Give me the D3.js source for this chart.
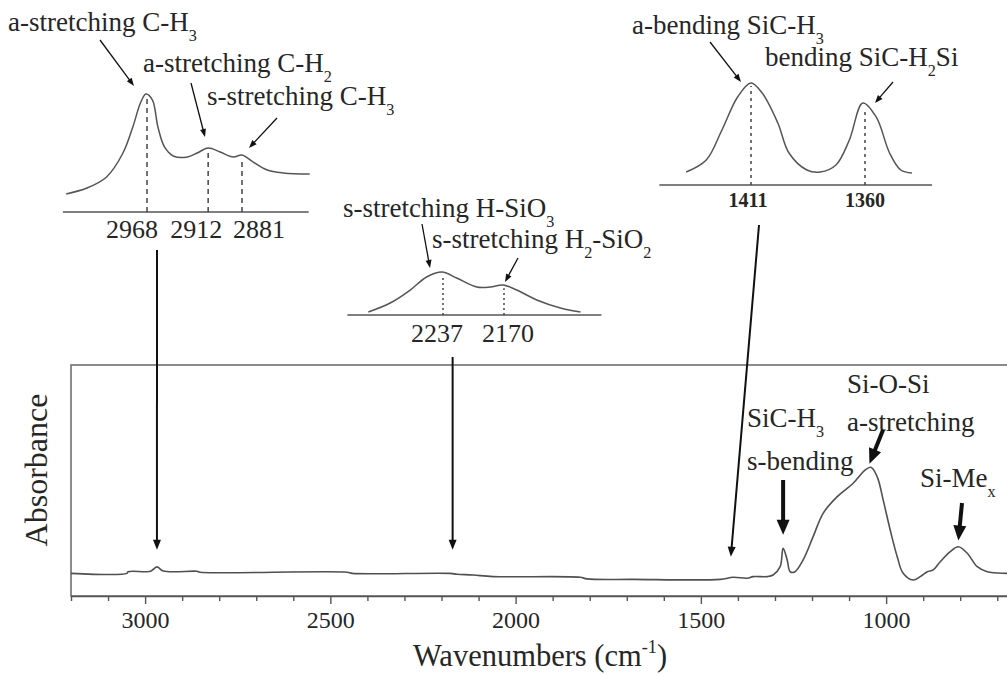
<!DOCTYPE html>
<html>
<head>
<meta charset="utf-8">
<script src="https://cdn.jsdelivr.net/npm/d3@7"></script>
<style>
  body { margin: 0; background: #fff; }
  svg { display: block; }
  text { font-family: "Liberation Serif", "Times New Roman", serif; fill: #262626; }
</style>
</head>
<body>
<svg id="chart" width="1007" height="675"></svg>
<script>
// --- Data: main FTIR spectrum (wavenumber cm-1, absorbance a.u.) ---
const mainWavenumbers = [3200, 3049, 3046, 3000, 2985, 2968, 2951, 2860, 2852, 2455, 2441, 2177, 2158, 2115, 2061,
  1826, 1807, 1683, 1448, 1413, 1375, 1359, 1321, 1305, 1286, 1278, 1267, 1259, 1246, 1224, 1197, 1170, 1132,
  1089, 1057, 1041, 1024, 1008, 989, 970, 954, 927, 908, 889, 873, 854, 827, 805, 781, 754, 727, 673, 650];
const mainAbsorbance = [0.098, 0.098, 0.105, 0.105, 0.107, 0.126, 0.108, 0.107, 0.103, 0.103, 0.098, 0.098, 0.094, 0.091, 0.084,
  0.081, 0.074, 0.072, 0.072, 0.081, 0.077, 0.084, 0.084, 0.091, 0.127, 0.206, 0.156, 0.105, 0.105, 0.156, 0.257, 0.358, 0.430,
  0.488, 0.545, 0.557, 0.516, 0.416, 0.286, 0.170, 0.098, 0.069, 0.084, 0.105, 0.113, 0.148, 0.192, 0.213, 0.185, 0.127, 0.105, 0.098, 0.097];
const mainTicks = d3.range(3200, 650, -100);
const mainTickLabels = [3000, 2500, 2000, 1500, 1000];

// inset 1 : C-H stretching region
const inset1Wavenumbers = [3042, 3023, 3005, 2990, 2981, 2974, 2969, 2963, 2958, 2952, 2944, 2931, 2922, 2912, 2901, 2889, 2881, 2871, 2858, 2843, 2819];
const inset1Intensity = [0.153, 0.203, 0.297, 0.5, 0.72, 0.924, 1.0, 0.949, 0.72, 0.551, 0.475, 0.466, 0.5, 0.542, 0.508, 0.466, 0.483, 0.424, 0.356, 0.331, 0.322];
const inset1Peaks = [2968, 2912, 2881];

// inset 2 : Si-H stretching region
const inset2Wavenumbers = [2319, 2295, 2273, 2255, 2238, 2222, 2200, 2185, 2171, 2156, 2134, 2108, 2086];
const inset2Intensity = [0.07, 0.279, 0.581, 0.884, 1.0, 0.86, 0.651, 0.651, 0.698, 0.581, 0.349, 0.163, 0.07];
const inset2Peaks = [2237, 2170];

// inset 3 : SiC-H bending region
const inset3Wavenumbers = [1440, 1431, 1424, 1417, 1411, 1406, 1399, 1394, 1386, 1380, 1373, 1367, 1361, 1355, 1349, 1344, 1339];
const inset3Intensity = [0.127, 0.245, 0.539, 0.863, 1.0, 0.902, 0.608, 0.314, 0.147, 0.127, 0.196, 0.441, 0.804, 0.667, 0.314, 0.147, 0.118];
const inset3Peaks = [1411, 1360];

const svg = d3.select("#chart");
const fontFamily = '"Liberation Serif", "Times New Roman", serif';

// text with sub/superscripts : parts = [[str, "sub"|"sup"|null], ...]
function richText(g, x, y, parts, size) {
  const t = g.append("text").attr("x", x).attr("y", y).style("font-size", size + "px");
  let shift = 0;
  parts.forEach(([s, kind]) => {
    const target = kind === "sub" ? size * 0.38 : kind === "sup" ? -size * 0.42 : 0;
    const sp = t.append("tspan").attr("dy", target - shift).text(s);
    if (kind) sp.style("font-size", (size * 0.6) + "px");
    shift = target;
  });
  return t;
}

// arrow: line + filled head, tip at (x2, y2)
function arrow(g, x1, y1, x2, y2, o) {
  const dx = x2 - x1, dy = y2 - y1, len = Math.hypot(dx, dy);
  const ux = dx / len, uy = dy / len;
  const bx = x2 - ux * o.head, by = y2 - uy * o.head;
  g.append("line")
    .attr("x1", x1).attr("y1", y1).attr("x2", bx + ux * 1).attr("y2", by + uy * 1)
    .attr("stroke", "#111").attr("stroke-width", o.width);
  const hw = o.headW / 2;
  g.append("path")
    .attr("d", `M${x2},${y2}L${bx - uy * hw},${by + ux * hw}L${bx + uy * hw},${by - ux * hw}Z`)
    .attr("fill", "#111");
}

// --- Main spectrum ---
const x = d3.scaleLinear().domain([3200, 650]).range([71, 1015.8]);
const y = d3.scaleLinear().domain([0, 1]).range([596, 365]);

svg.append("defs").append("clipPath").attr("id", "plot-clip")
  .append("rect").attr("x", 71).attr("y", 365).attr("width", 945).attr("height", 231);

svg.append("rect")
  .attr("x", x(3200)).attr("y", y(1))
  .attr("width", x(650) - x(3200)).attr("height", y(0) - y(1))
  .attr("fill", "none").attr("stroke", "#666").attr("stroke-width", 1.5);

const xAxis = d3.axisBottom(x)
  .tickValues(mainTicks)
  .tickSize(8)
  .tickSizeOuter(0)
  .tickPadding(7)
  .tickFormat(d => mainTickLabels.includes(d) ? d : "");

const axisG = svg.append("g").attr("transform", `translate(0,${y(0)})`).call(xAxis)
  .attr("font-family", fontFamily).attr("font-size", 24);
axisG.select(".domain").attr("stroke", "#555").attr("stroke-width", 1.6);
axisG.selectAll(".tick line").attr("stroke", "#555").attr("stroke-width", 1.4)
  .attr("y2", d => mainTickLabels.includes(d) ? 8 : 5);
axisG.selectAll(".tick text")
  .attr("font-family", fontFamily)
  .style("font-family", "'Liberation Serif', serif")
  .style("font-size", "24px").attr("fill", "#262626");

const mainLine = d3.line()
  .x((d, i) => x(mainWavenumbers[i]))
  .y((d, i) => y(mainAbsorbance[i]))
  .curve(d3.curveCatmullRom.alpha(0.5));

svg.append("path")
  .datum(mainWavenumbers)
  .attr("clip-path", "url(#plot-clip)")
  .attr("d", mainLine)
  .attr("fill", "none").attr("stroke", "#505050").attr("stroke-width", 1.6);

// axis titles
svg.append("text")
  .attr("transform", "translate(47,470) rotate(-90)")
  .attr("text-anchor", "middle")
  .style("font-size", "32px")
  .text("Absorbance");

richText(svg, 413, 666, [["Wavenumbers (cm", null], ["-1", "sup"], [")", null]], 30.5);

// --- Inset helper ---
function drawInset(cfg) {
  const g = svg.append("g");
  const sx = d3.scaleLinear().domain(cfg.peakDomain).range(cfg.peakRange);
  const sy = d3.scaleLinear().domain([0, 1]).range([cfg.axisY, cfg.topY]);
  g.append("line")
    .attr("x1", sx(cfg.axisDomain[0])).attr("x2", sx(cfg.axisDomain[1]))
    .attr("y1", cfg.axisY).attr("y2", cfg.axisY)
    .attr("stroke", "#555").attr("stroke-width", 1.6);
  const line = d3.line()
    .x((d, i) => sx(cfg.w[i]))
    .y((d, i) => sy(cfg.v[i]))
    .curve(d3.curveCatmullRom.alpha(0.5));
  g.append("path").datum(cfg.w).attr("d", line)
    .attr("fill", "none").attr("stroke", "#555").attr("stroke-width", 1.5);
  // value of the curve at a wavenumber (linear between read points)
  const interp = w => {
    const j = Math.max(1, cfg.w.findIndex(v => v <= w));
    const t = (cfg.w[j - 1] - w) / (cfg.w[j - 1] - cfg.w[j]);
    return cfg.v[j - 1] + t * (cfg.v[j] - cfg.v[j - 1]);
  };
  cfg.peaks.forEach((p, k) => {
    g.append("line")
      .attr("x1", sx(p)).attr("x2", sx(p))
      .attr("y1", cfg.axisY).attr("y2", sy(interp(p)) + 3)
      .attr("stroke", "#444").attr("stroke-width", 1.5)
      .attr("stroke-dasharray", cfg.dash);
    g.append("text")
      .attr("x", sx(p) + cfg.labelDx[k]).attr("y", cfg.labelY)
      .attr("text-anchor", "middle")
      .style("font-size", cfg.labelSize + "px")
      .style("font-weight", cfg.labelWeight || "normal")
      .text(p);
  });
  return g;
}

drawInset({
  w: inset1Wavenumbers, v: inset1Intensity, peaks: inset1Peaks,
  peakDomain: [2968, 2881], peakRange: [147, 242], axisDomain: [3045, 2820],
  axisY: 212, topY: 94, dash: "5,4", labelY: 238, labelDx: [-15, -12, 17], labelSize: 26
});
drawInset({
  w: inset2Wavenumbers, v: inset2Intensity, peaks: inset2Peaks,
  peakDomain: [2237, 2170], peakRange: [443, 504], axisDomain: [2342, 2063],
  axisY: 315, topY: 272, dash: "2,3", labelY: 342, labelDx: [-6, 4], labelSize: 26
});
drawInset({
  w: inset3Wavenumbers, v: inset3Intensity, peaks: inset3Peaks,
  peakDomain: [1411, 1360], peakRange: [751, 865], axisDomain: [1452, 1330],
  axisY: 185, topY: 83, dash: "3,4", labelY: 207, labelDx: [-3, 0], labelSize: 20, labelWeight: 600
});

// --- Annotations ---
const ann = svg.append("g");
const fs = 27;
richText(ann, 8, 31, [["a-stretching C-H", null], ["3", "sub"]], fs);
richText(ann, 143, 72, [["a-stretching C-H", null], ["2", "sub"]], fs);
richText(ann, 207, 105, [["s-stretching C-H", null], ["3", "sub"]], fs);
richText(ann, 343, 217, [["s-stretching H-SiO", null], ["3", "sub"]], fs);
richText(ann, 432, 248, [["s-stretching H", null], ["2", "sub"], ["-SiO", null], ["2", "sub"]], fs);
richText(ann, 632, 34, [["a-bending SiC-H", null], ["3", "sub"]], fs);
richText(ann, 765, 66, [["bending SiC-H", null], ["2", "sub"], ["Si", null]], fs);
richText(ann, 747, 427, [["SiC-H", null], ["3", "sub"]], fs);
richText(ann, 747, 470, [["s-bending", null]], fs);
richText(ann, 847, 393, [["Si-O-Si", null]], fs);
richText(ann, 847, 431, [["a-stretching", null]], fs);
richText(ann, 920, 487, [["Si-Me", null], ["x", "sub"]], fs);

const thin = { width: 1.3, head: 8, headW: 6 };
const mid = { width: 2, head: 10, headW: 8 };
const bold = { width: 4, head: 15, headW: 13 };

// inset pointer arrows
arrow(ann, 100, 40, 134, 86, thin);
arrow(ann, 191, 83, 205, 137, thin);
arrow(ann, 277, 118, 249, 148, thin);
arrow(ann, 422, 224, 430, 268, thin);
arrow(ann, 518, 258, 505, 282, thin);
arrow(ann, 710, 42, 741, 82, thin);
arrow(ann, 893, 82, 875, 103, thin);

// long arrows from insets to main spectrum
arrow(ann, 157, 250, x(2968), y(0.2), mid);
arrow(ann, x(2170), 357, x(2170), y(0.2), mid);
arrow(ann, 759, 225, x(1411) - 3, y(0.17), mid);

// bold arrows on the main peaks
arrow(ann, x(1278), 480, x(1278), y(0.265), bold);
arrow(ann, 883, 430, x(1045), y(0.56) - 3, bold);
arrow(ann, 962, 503, x(805), y(0.24), bold);
</script>
</body>
</html>
